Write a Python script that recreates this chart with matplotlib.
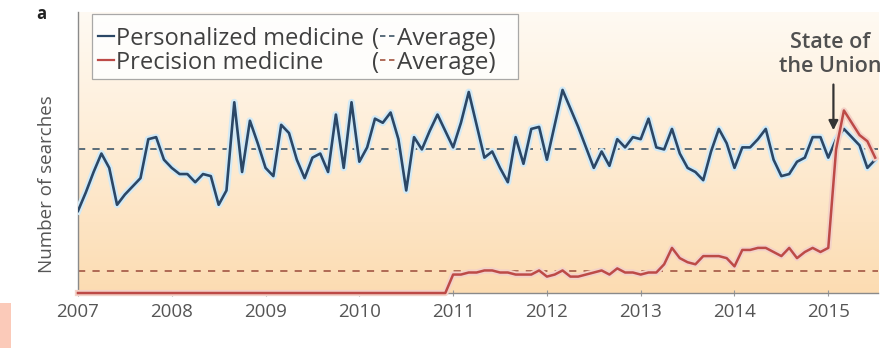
# coding: utf-8
import matplotlib
matplotlib.use("Agg")
import matplotlib.pyplot as plt
import matplotlib.patheffects as pe
import numpy as np
from matplotlib.colors import LinearSegmentedColormap
from matplotlib.patches import Rectangle

plt.rcParams['font.family'] = ['Open Sans', 'DejaVu Sans']

# monthly search interest, Jan 2007 .. Jul 2015 (relative, max ~100)
personalized = [40, 49, 59, 68, 61, 43, 48, 52, 56, 75, 76, 65,
                61, 58, 58, 54, 58, 57, 43, 50, 93, 59, 84, 73,
                61, 57, 82, 78, 65, 56, 66, 68, 59, 87, 61, 93,
                64, 71, 85, 83, 88, 75, 50, 76, 70, 79, 87, 79,
                71, 83, 98, 82, 66, 69, 61, 54, 76, 63, 80, 81,
                65, 82, 99, 90, 81, 71, 61, 69, 62, 75, 71, 76,
                75, 85, 71, 70, 80, 68, 61, 59, 55, 69, 80, 73,
                61, 71, 71, 75, 80, 65, 57, 58, 64, 66, 76, 76,
                66, 75, 80, 76, 72, 61, 65]
precision = [0] * 48 + [
                9, 9, 10, 10, 11, 11, 10, 10, 9, 9, 9, 11,
                8, 9, 11, 8, 8, 9, 10, 11, 9, 12, 10, 10,
                9, 10, 10, 14, 22, 17, 15, 14, 18, 18, 18, 17,
                13, 21, 21, 22, 22, 20, 18, 22, 17, 20, 22, 20,
                22, 70, 89, 83, 77, 74, 66]
personalized_avg = 70
precision_avg = 10.7

years = list(range(2007, 2016))
sotu_date = 2015 + 20 / 365.

months = 2007 + np.arange(len(personalized)) / 12.


def main():
    fig = plt.figure(figsize=(8.84, 3.48), dpi=100)
    ax = fig.add_axes([0.0882, 0.158, 0.905, 0.8075])

    # warm vertical gradient behind the data
    cmap = LinearSegmentedColormap.from_list(
        "warm", ["#fcdcb2", "#feecd4", "#fffaf3"])
    grad = np.linspace(0, 1, 256).reshape(-1, 1)
    ax.imshow(grad, extent=[0, 1, 0, 1], transform=ax.transAxes,
              origin="lower", aspect="auto", cmap=cmap, zorder=0)

    ax.axhline(personalized_avg, color="#4d6272", lw=1.3,
               dashes=(4, 4), zorder=2)
    ax.axhline(precision_avg, color="#a9604c", lw=1.3,
               dashes=(4, 4), zorder=2)

    blue_glow = [pe.Stroke(linewidth=5, foreground="#d3eaf6"), pe.Normal()]
    red_glow = [pe.Stroke(linewidth=4.5, foreground="#f3d2c8"), pe.Normal()]
    ax.plot(months, personalized, color="#2b4766", lw=1.9,
            path_effects=blue_glow, zorder=3)
    ax.plot(months, precision, color="#bd4a47", lw=1.8,
            path_effects=red_glow, zorder=4, clip_on=False)

    ax.set_xlim(2007, 2015.53)
    ax.set_ylim(0, 137)

    ax.set_xticks(years)
    ax.set_xticklabels([str(y) for y in years])
    ax.set_yticks([])
    ax.tick_params(axis="x", direction="inout", length=5, color="#999999",
                   labelsize=13.5, labelcolor="#555555", pad=5)
    for s in ["top", "right"]:
        ax.spines[s].set_visible(False)
    for s in ["left", "bottom"]:
        ax.spines[s].set_color("#8a8a8a")
        ax.spines[s].set_linewidth(1.0)

    ax.set_ylabel("Number of searches", fontsize=13.5, color="#555555")
    ax.yaxis.set_label_coords(-0.028, 0.388)

    # legend drawn by hand to get the "(-- Average)" entries
    ax.add_patch(Rectangle((0.0175, 0.762), 0.5325, 0.231,
                           transform=ax.transAxes, facecolor="white",
                           alpha=0.85, edgecolor="#9a9a9a", lw=0.9,
                           zorder=5))
    rows = [("Personalized medicine", "#2b4766", "#4d6272", 0.905),
            ("Precision medicine", "#bd4a47", "#a9604c", 0.82)]
    for label, c, cavg, fy in rows:
        ax.plot([0.025, 0.045], [fy + 0.008, fy + 0.008], color=c, lw=1.6,
                transform=ax.transAxes, clip_on=False, zorder=6)
        ax.text(0.0475, fy, label, transform=ax.transAxes, fontsize=17,
                color="#404040", va="center", ha="left", zorder=6)
        ax.text(0.3675, fy, "(", transform=ax.transAxes, fontsize=17,
                color="#404040", va="center", ha="left", zorder=6)
        ax.plot([0.377, 0.396], [fy + 0.008, fy + 0.008], color=cavg,
                lw=1.3, dashes=(3, 2), transform=ax.transAxes,
                clip_on=False, zorder=6)
        ax.text(0.399, fy, "Average)", transform=ax.transAxes, fontsize=17.5,
                color="#404040", va="center", ha="left", zorder=6)

    ax.text(sotu_date - 0.035, 105.5, "State of\nthe Union", ha="center",
            va="bottom", fontsize=15.5, fontweight="semibold",
            color="#505050", linespacing=1.15, zorder=6)
    ax.annotate("", xy=(sotu_date, 78), xytext=(sotu_date, 103),
                arrowprops=dict(arrowstyle="-|>", color="#333333", lw=1.6,
                                mutation_scale=14), zorder=6)

    fig.text(0.047, 0.96, "a", fontsize=12, fontweight="bold",
             color="#222222", ha="center", va="center")
    fig.patches.append(Rectangle((0, 0), 0.012, 0.13,
                                 transform=fig.transFigure,
                                 facecolor="#fbcab9", edgecolor="none"))

    fig.savefig("out.png", dpi=100)
    plt.close(fig)


if __name__ == '__main__':
    main()
